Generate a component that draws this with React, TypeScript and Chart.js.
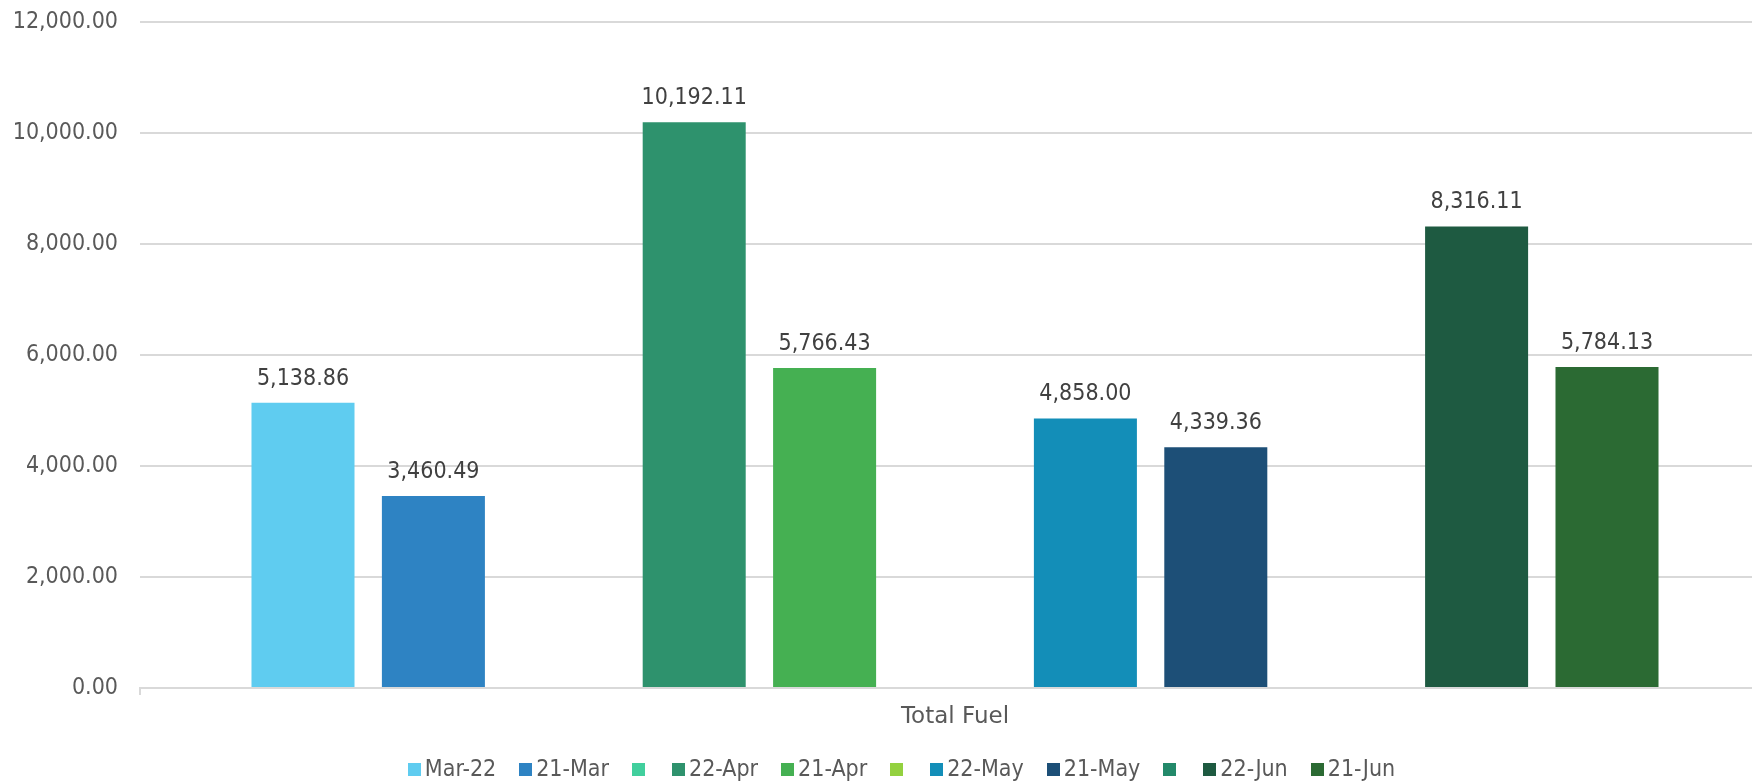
import React, { useEffect, useRef } from "react";
import { Chart, registerables } from "chart.js";

Chart.register(...registerables);

const categories = ["Total Fuel"];
const seriesLabels = ["Mar-22", "21-Mar", "", "22-Apr", "21-Apr", "", "22-May", "21-May", "", "22-Jun", "21-Jun"];
const seriesValues: (number | null)[] = [5138.86, 3460.49, null, 10192.11, 5766.43, null, 4858.0, 4339.36, null, 8316.11, 5784.13];
const seriesColors = [
  "#5FCCF0", "#2E83C3", "#41CF9D", "#2E926D", "#45B052", "#93D13F",
  "#138EB8", "#1D4F77", "#23896A", "#1E5A41", "#2B6A33",
];
const yMin = 0;
const yMax = 12000;
const yStep = 2000;

const FONT = "'DejaVu Sans Condensed', 'DejaVu Sans', sans-serif";
const FONT_WIDE = "'DejaVu Sans', sans-serif";
const FONT_SIZE = 23;

const fmt = (v: number) =>
  v.toLocaleString("en-US", { minimumFractionDigits: 2, maximumFractionDigits: 2 });

const valueLabels = {
  id: "valueLabels",
  afterDatasetsDraw(chart: any) {
    const ctx = chart.ctx;
    ctx.save();
    ctx.font = `${FONT_SIZE}px ${FONT}`;
    ctx.fillStyle = "#404040";
    ctx.textAlign = "center";
    ctx.textBaseline = "alphabetic";
    chart.data.datasets.forEach((ds: any, i: number) => {
      const meta = chart.getDatasetMeta(i);
      meta.data.forEach((el: any, j: number) => {
        const v = ds.data[j];
        if (v === null || v === undefined) return;
        ctx.fillText(fmt(v), el.x, el.y - 18);
      });
    });
    ctx.restore();
  },
};

const customLegend = {
  id: "customLegend",
  afterDraw(chart: any) {
    const ctx = chart.ctx;
    ctx.save();
    ctx.font = `${FONT_SIZE}px ${FONT}`;
    const box = 13;
    const gapText = 4;
    const gapItem = 23;
    const items = chart.data.datasets.map((ds: any) => ({
      label: ds.label as string,
      color: ds.backgroundColor as string,
      w: box + gapText + ctx.measureText(ds.label).width,
    }));
    const total = items.reduce((s: number, it: any) => s + it.w, 0) + gapItem * (items.length - 1);
    let x = chart.width / 2 - total / 2;
    const cy = chart.height - 14;
    ctx.textBaseline = "middle";
    ctx.textAlign = "left";
    items.forEach((it: any) => {
      ctx.fillStyle = it.color;
      ctx.fillRect(Math.round(x), Math.round(cy - box / 2), box, box);
      ctx.fillStyle = "#595959";
      ctx.fillText(it.label, x + box + gapText, cy + 1);
      x += it.w + gapItem;
    });
    ctx.restore();
  },
};

export default function App() {
  const ref = useRef<HTMLCanvasElement | null>(null);
  useEffect(() => {
    if (!ref.current) return;
    Chart.defaults.font.family = FONT;
    const chart = new Chart(ref.current, {
      type: "bar",
      data: {
        labels: categories,
        datasets: seriesLabels.map((label, i) => ({
          label,
          data: [seriesValues[i]],
          backgroundColor: seriesColors[i],
          borderWidth: 0,
          categoryPercentage: 0.88,
          barPercentage: 0.79,
        })),
      },
      options: {
        responsive: false,
        animation: false,
        devicePixelRatio: 1,
        layout: { padding: { top: 0, right: 33, left: 0, bottom: 0 } },
        plugins: {
          legend: { display: false },
          tooltip: { enabled: false },
        },
        scales: {
          x: {
            offset: true,
            grid: {
              display: true,
              drawOnChartArea: false,
              drawTicks: true,
              tickLength: 7,
              color: "#d9d9d9",
              lineWidth: 2,
            },
            border: { display: true, color: "#d9d9d9", width: 2 },
            ticks: {
              color: "#595959",
              font: { size: FONT_SIZE, family: FONT_WIDE },
              padding: 8,
            },
            afterFit: (scale: any) => {
              scale.height = 95;
            },
          },
          y: {
            min: yMin,
            max: yMax,
            grid: { color: "#d9d9d9", lineWidth: 2, drawTicks: false },
            border: { display: false },
            ticks: {
              stepSize: yStep,
              color: "#595959",
              font: { size: FONT_SIZE, family: FONT },
              padding: 22,
              callback: (v: any) => fmt(Number(v)),
            },
            afterFit: (scale: any) => {
              scale.width = 140;
              scale.paddingTop = 22;
              scale.paddingBottom = 14;
            },
          },
        },
      },
      plugins: [valueLabels, customLegend],
    });
    return () => chart.destroy();
  }, []);

  return (
    <div
      style={{
        position: "fixed",
        left: 0,
        top: 0,
        width: 1752,
        height: 783,
        overflow: "hidden",
        background: "#ffffff",
      }}
    >
      <canvas ref={ref} width={1803} height={783} style={{ display: "block" }} />
    </div>
  );
}
